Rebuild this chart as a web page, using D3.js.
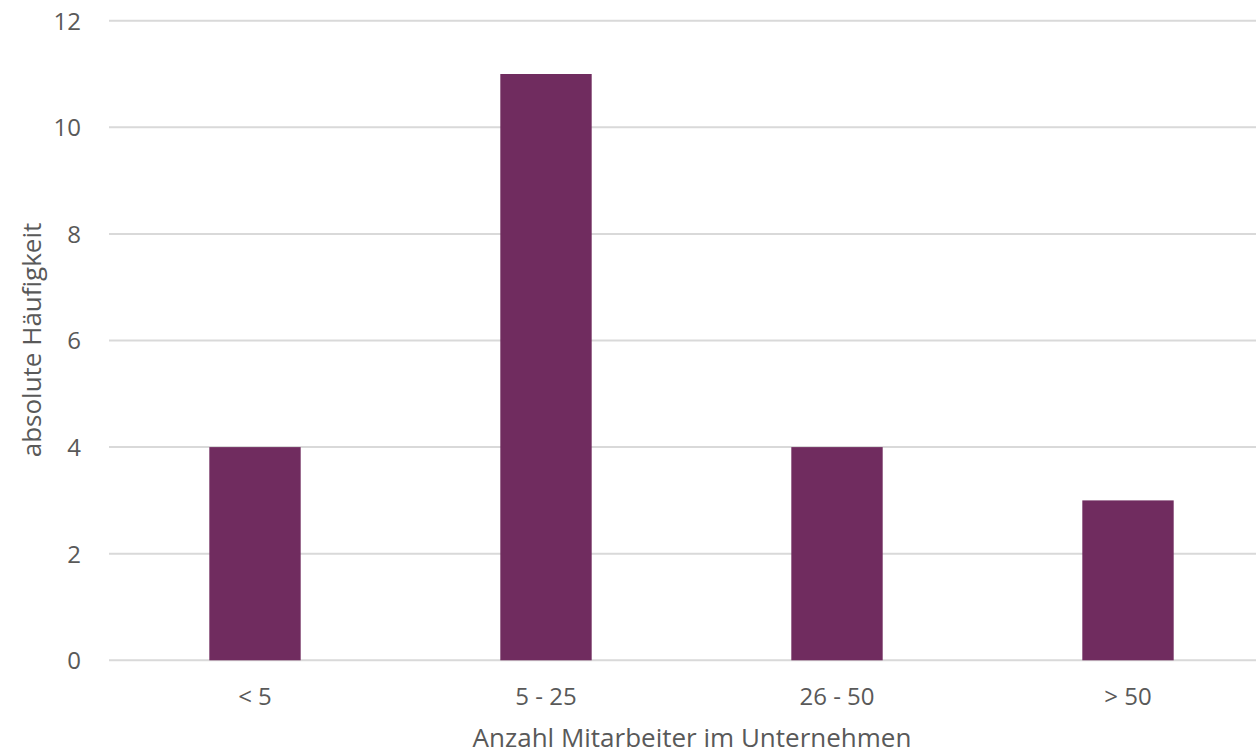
<!DOCTYPE html>
<html>
<head>
<meta charset="utf-8">
<script src="https://cdn.jsdelivr.net/npm/d3@7"></script>
<style>
  html, body { margin: 0; padding: 0; background: #fff; }
  svg { display: block; }
  text { font-family: "Open Sans", "Liberation Sans", sans-serif; fill: #595959; }
</style>
</head>
<body>
<svg id="chart" width="1256" height="756"></svg>
<script>
// Company size classes and how often each occurred
const categories = ["< 5", "5 - 25", "26 - 50", "> 50"];
const counts = [4, 11, 4, 3];
const yTicks = [0, 2, 4, 6, 8, 10, 12];
const xTitle = "Anzahl Mitarbeiter im Unternehmen";
const yTitle = "absolute Häufigkeit";

const svg = d3.select("#chart");
const W = 1256, H = 756;

const x = d3.scaleBand()
  .domain(categories)
  .range([109.5, 1273.5])
  .paddingInner(0.686)
  .paddingOuter(0.343);

const y = d3.scaleLinear()
  .domain([0, 12])
  .range([660.3, 20.7]);

// horizontal gridlines
svg.append("g")
  .selectAll("line")
  .data(yTicks)
  .join("line")
  .attr("x1", 109)
  .attr("x2", W)
  .attr("y1", d => y(d))
  .attr("y2", d => y(d))
  .attr("stroke", "#d9d9d9")
  .attr("stroke-width", 2);

// bars
svg.append("g")
  .selectAll("rect")
  .data(categories)
  .join("rect")
  .attr("x", d => x(d))
  .attr("width", x.bandwidth())
  .attr("y", (d, i) => y(counts[i]))
  .attr("height", (d, i) => y(0) - y(counts[i]))
  .attr("fill", "#702c5f");

// y axis labels
const yAxis = d3.axisLeft(y).tickValues(yTicks).tickSize(0).tickPadding(0);
const gy = svg.append("g").attr("transform", "translate(81,0)").call(yAxis);
gy.select(".domain").remove();
gy.selectAll("text")
  .style("font-size", "24px")
  .style("font-family", null)
  .attr("fill", "#595959")
  .attr("dy", "0.35em");

// x axis labels
const xAxis = d3.axisBottom(x).tickSize(0).tickPadding(0);
const gx = svg.append("g").attr("transform", "translate(0,697)").call(xAxis);
gx.select(".domain").remove();
gx.selectAll("text")
  .style("font-size", "24px")
  .style("font-family", null)
  .attr("fill", "#595959")
  .attr("y", 0)
  .attr("dy", "0.35em");

// axis titles
svg.append("text")
  .attr("x", 692)
  .attr("y", 738)
  .attr("dy", "0.35em")
  .attr("text-anchor", "middle")
  .style("font-size", "26px")
  .text(xTitle);

svg.append("text")
  .attr("transform", "translate(32,340) rotate(-90)")
  .attr("dy", "0.35em")
  .attr("text-anchor", "middle")
  .style("font-size", "26px")
  .text(yTitle);
</script>
</body>
</html>
